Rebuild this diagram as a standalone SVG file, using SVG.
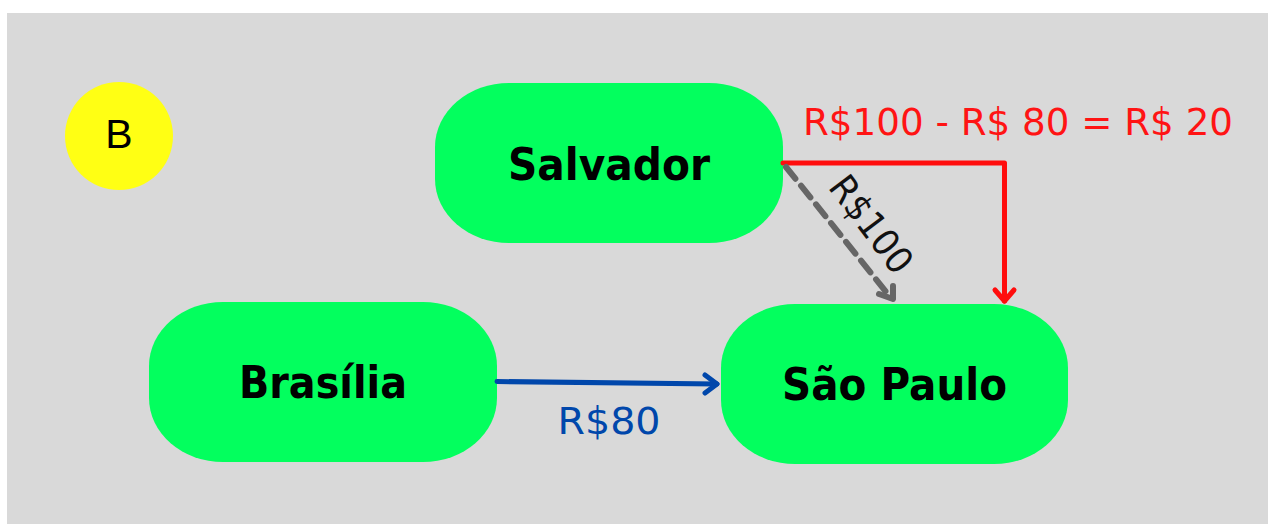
<svg xmlns="http://www.w3.org/2000/svg" width="1268" height="524" viewBox="0 0 1268 524">
  <defs>
    <style>
      .node { fill: #03FF5E; }
      .nlabel { font-family: "DejaVu Sans", "Liberation Sans", sans-serif; font-weight: bold; font-size: 45px; fill: #000; text-anchor: middle; }
      .elabel { font-family: "DejaVu Sans", "Liberation Sans", sans-serif; font-size: 37px; text-anchor: middle; }
      .edge { fill: none; stroke-linecap: round; stroke-linejoin: round; }
    </style>
  </defs>
  <rect x="0" y="0" width="1268" height="524" fill="#ffffff"/>
  <rect x="7" y="13" width="1261" height="511" fill="#D9D9D9"/>

  <g id="badge-B">
    <circle cx="119" cy="136" r="54" fill="#FFFF14"/>
    <text x="119" y="148" font-family="Liberation Sans, Arial, sans-serif" font-size="41" text-anchor="middle" fill="#000">B</text>
  </g>

  <g id="node-salvador">
    <rect class="node" x="435" y="83" width="348" height="160" rx="74" ry="64"/>
    <text class="nlabel" x="609" y="180" textLength="202" lengthAdjust="spacingAndGlyphs">Salvador</text>
  </g>

  <g id="node-brasilia">
    <rect class="node" x="149" y="302" width="348" height="160" rx="74" ry="64"/>
    <text class="nlabel" x="323" y="398" textLength="168" lengthAdjust="spacingAndGlyphs">Brasília</text>
  </g>

  <g id="node-saopaulo">
    <rect class="node" x="721" y="304" width="347" height="160" rx="74" ry="64"/>
    <text class="nlabel" x="894.5" y="400" textLength="225" lengthAdjust="spacingAndGlyphs">São Paulo</text>
  </g>

  <g id="connectors">
    <g id="edge-brasilia-saopaulo">
      <path class="edge" d="M497 381.5 L717 384" stroke="#0047AB" stroke-width="5"/>
      <path class="edge" d="M705 375 L717 384 L705 393" stroke="#0047AB" stroke-width="5"/>
      <text class="elabel" x="609" y="434" fill="#0047AB" font-size="38" textLength="103" lengthAdjust="spacingAndGlyphs">R$80</text>
    </g>
    <g id="edge-salvador-saopaulo-red">
      <path class="edge" d="M783 163 L1004.5 163 L1004.5 301" stroke="#FF0D0D" stroke-width="5" stroke-linecap="butt" stroke-linejoin="miter"/>
      <path class="edge" d="M995 290 L1004.5 301 L1014 290" stroke="#FF0D0D" stroke-width="5"/>
      <text class="elabel" x="1018" y="135" fill="#FF1414" font-size="39" textLength="430" lengthAdjust="spacingAndGlyphs">R$100 - R$ 80 = R$ 20</text>
    </g>
    <g id="edge-salvador-saopaulo-dashed">
      <path class="edge" d="M786 167 L891 298" stroke="#666666" stroke-width="6" stroke-dasharray="15 9" stroke-linecap="butt"/>
      <path class="edge" d="M879 294 L893 299 L893 286" stroke="#666666" stroke-width="6"/>
      <text class="elabel" x="0" y="0" fill="#111" font-size="40" textLength="112" lengthAdjust="spacingAndGlyphs" transform="translate(861 232) rotate(53)">R$100</text>
    </g>
  </g>
</svg>
